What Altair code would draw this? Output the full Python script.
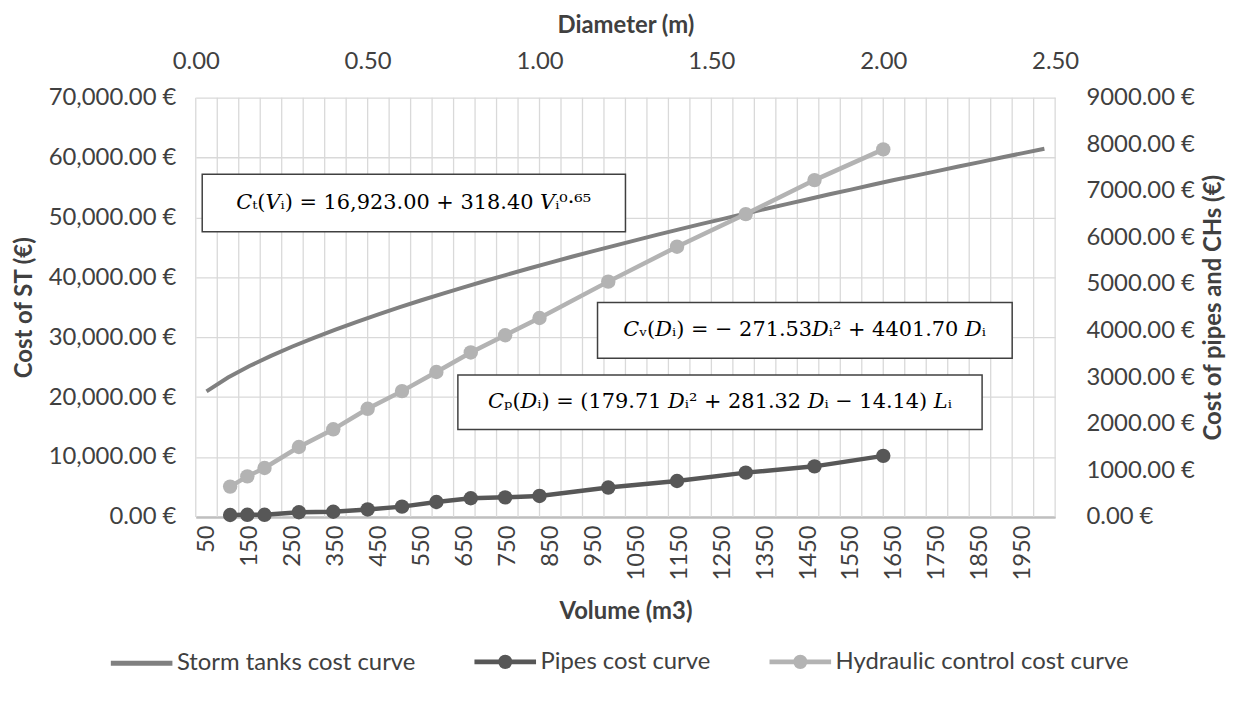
import altair as alt
import pandas as pd

# ---------------- data ----------------
volumes = [50, 100, 150, 200, 250, 300, 350, 400, 450, 500,
           550, 600, 650, 700, 750, 800, 850, 900, 950, 1000,
           1050, 1100, 1150, 1200, 1250, 1300, 1350, 1400, 1450, 1500,
           1550, 1600, 1650, 1700, 1750, 1800, 1850, 1900, 1950, 2000]
storm_cost = [20970, 23280, 25190, 26890, 28450, 29890, 31270, 32560, 33810, 35020,
              36170, 37290, 38370, 39430, 40460, 41470, 42450, 43440, 44380, 45300,
              46220, 47120, 48010, 48890, 49720, 50580, 51410, 52230, 53030, 53860,
              54650, 55450, 56250, 56980, 57740, 58510, 59240, 60000, 60740, 61470]

diameters = [0.1, 0.15, 0.2, 0.3, 0.4, 0.5, 0.6, 0.7, 0.8, 0.9, 1.0, 1.2, 1.4, 1.6, 1.8, 2.0]
pipes_cost = [40, 45, 45, 100, 110, 160, 220, 320, 400, 420, 450, 630, 770, 950, 1085, 1310]
hydraulic_cost = [650, 870, 1050, 1500, 1880, 2320, 2700, 3110, 3530, 3900, 4270, 5050, 5800, 6500, 7230, 7890]

series_names = ["Storm tanks cost curve", "Pipes cost curve", "Hydraulic control cost curve"]
series_colors = ["#808080", "#575757", "#b3b3b3"]

left_ticks = [0, 10000, 20000, 30000, 40000, 50000, 60000, 70000]
right_ticks = [0, 1000, 2000, 3000, 4000, 5000, 6000, 7000, 8000, 9000]
top_ticks = [0.0, 0.5, 1.0, 1.5, 2.0, 2.5]
bottom_ticks = [50, 150, 250, 350, 450, 550, 650, 750, 850, 950,
                1050, 1150, 1250, 1350, 1450, 1550, 1650, 1750, 1850, 1950]

equations = [
    "\U0001D436\u209C(\U0001D449\u1D62) =  16,923.00 +  318.40 \U0001D449\u1D62\u2070\u00B7\u2076\u2075",
    "\U0001D436\u1D65(\U0001D437\u1D62) =  \u2212 271.53\U0001D437\u1D62\u00B2 + 4401.70 \U0001D437\u1D62",
    "\U0001D436\u209A(\U0001D437\u1D62) = (179.71 \U0001D437\u1D62\u00B2 + 281.32 \U0001D437\u1D62 \u2212 14.14) \U0001D43F\u1D62",
]
# equation boxes, in data units of the volume / ST-cost axes
box_x = [40, 960, 635]
box_x2 = [1025, 1925, 1855]
box_y = [47600, 26500, 14600]
box_y2 = [57200, 35800, 23700]
text_x = [532, 1442, 1245]
text_y = [52400, 31200, 19150]

FONT = "Lato"
TXT = "#404040"
W, H = 865, 422

# ---------------- tables ----------------
storm_df = pd.DataFrame({"volume": volumes, "cost": storm_cost})
bounds = [v - 25 for v in volumes] + [volumes[-1] + 25]
grid_df = pd.DataFrame({"b": bounds})
diam_df = pd.DataFrame({"diameter": diameters, "pipes": pipes_cost, "hydraulic": hydraulic_cost})
box_df = pd.DataFrame({"x": box_x, "x2": box_x2, "y": box_y, "y2": box_y2,
                       "tx": text_x, "ty": text_y, "eq": equations})
legend_df = pd.DataFrame({"series": series_names})


def xs():
    return alt.Scale(domain=[25, 2025], nice=False, zero=False)


def ys():
    return alt.Scale(domain=[0, 70000], nice=False, zero=False)


def dxs():
    return alt.Scale(domain=[0, 2.5], nice=False, zero=False)


def dys():
    return alt.Scale(domain=[0, 9000], nice=False, zero=False)


x_axis = alt.Axis(orient="bottom", values=bottom_ticks, labelAngle=270, format="d", grid=False,
                  ticks=False, domain=True, domainColor="#bfbfbf", domainWidth=2.5, labelPadding=8,
                  labelOverlap=False, labelFlush=False, title="Volume (m3)", titleY=95,
                  titleBaseline="middle")
y_axis = alt.Axis(orient="left", values=left_ticks, labelExpr="format(datum.value, ',.2f') + ' €'",
                  grid=True, gridColor="#d9d9d9", gridWidth=1.3, ticks=False, domain=False,
                  labelPadding=20, labelOverlap=False, labelFlush=False, title="Cost of ST (€)",
                  titleX=-172, titleY=H / 2, titleAngle=270, titleBaseline="middle")
top_axis = alt.Axis(orient="top", values=top_ticks, format=".2f", grid=False, ticks=False,
                    domain=False, labelPadding=24, labelOverlap=False, labelFlush=False,
                    title="Diameter (m)", titleY=-73, titleBaseline="middle")
right_axis = alt.Axis(orient="right", values=right_ticks,
                      labelExpr="format(datum.value, '.2f') + ' €'",
                      grid=False, ticks=False, domain=False, labelPadding=31, labelOverlap=False,
                      labelFlush=False, title="Cost of pipes and CHs (€)", titleX=159,
                      titleY=H / 2, titleAngle=270, titleBaseline="middle")

vgrid = alt.Chart(grid_df).mark_rule(color="#d9d9d9", strokeWidth=1.3).encode(
    x=alt.X("b:Q", scale=xs(), axis=None))

storm = alt.Chart(storm_df).mark_line(color=series_colors[0], strokeWidth=4).encode(
    x=alt.X("volume:Q", scale=xs(), axis=x_axis),
    y=alt.Y("cost:Q", scale=ys(), axis=y_axis))

boxes = alt.Chart(box_df).mark_rect(fill="white", stroke="#404040", strokeWidth=1.5).encode(
    x=alt.X("x:Q", scale=xs(), axis=None), x2="x2:Q",
    y=alt.Y("y:Q", scale=ys(), axis=None), y2="y2:Q")

texts = alt.Chart(box_df).mark_text(font="DejaVu Serif", fontSize=21, color="#000000",
                                    align="center", baseline="middle").encode(
    x=alt.X("tx:Q", scale=xs(), axis=None), y=alt.Y("ty:Q", scale=ys(), axis=None), text="eq:N")

path_line = "M-1,0L1,0"
dots = ""
for r in (0.04, 0.1, 0.15):
    dots += f"M{r},0A{r},{r} 0 1,1 -{r},0A{r},{r} 0 1,1 {r},0"
path_dot = path_line + dots

leg = alt.Legend(orient="none", legendX=-88, legendY=534, direction="horizontal", columns=3,
                 title=None, labelFont=FONT, labelFontSize=24, labelColor=TXT, labelLimit=500,
                 symbolStrokeWidth=5, symbolSize=3844, symbolOpacity=1, columnPadding=48,
                 labelOffset=2)
legend_layer = alt.Chart(legend_df).mark_point(filled=False, strokeWidth=5, opacity=1).encode(
    color=alt.Color("series:N", scale=alt.Scale(domain=series_names, range=series_colors), legend=leg),
    shape=alt.Shape("series:N", scale=alt.Scale(domain=series_names, range=[path_line, path_dot, path_dot]), legend=leg),
).transform_filter("false")

pipes_line = alt.Chart(diam_df).mark_line(color=series_colors[1], strokeWidth=4.5).encode(
    x=alt.X("diameter:Q", scale=dxs(), axis=top_axis),
    y=alt.Y("pipes:Q", scale=dys(), axis=right_axis))
pipes_pts = alt.Chart(diam_df).mark_circle(color=series_colors[1], size=210, opacity=1).encode(
    x=alt.X("diameter:Q", scale=dxs(), axis=None), y=alt.Y("pipes:Q", scale=dys(), axis=None))
hyd_line = alt.Chart(diam_df).mark_line(color=series_colors[2], strokeWidth=4.5).encode(
    x=alt.X("diameter:Q", scale=dxs(), axis=None), y=alt.Y("hydraulic:Q", scale=dys(), axis=None))
hyd_pts = alt.Chart(diam_df).mark_circle(color=series_colors[2], size=210, opacity=1).encode(
    x=alt.X("diameter:Q", scale=dxs(), axis=None), y=alt.Y("hydraulic:Q", scale=dys(), axis=None))

chart = alt.layer(
    vgrid, storm, pipes_line, pipes_pts, hyd_line, hyd_pts, boxes, texts, legend_layer
).resolve_scale(x="independent", y="independent").properties(
    width=W, height=H,
    padding={"left": 189, "top": 88, "right": 175, "bottom": 170},
    autosize=alt.AutoSizeParams(type="none"),
    background="white",
).configure_view(stroke="transparent").configure_axis(
    labelFont=FONT, labelFontSize=24, labelColor=TXT,
    titleFont=FONT, titleFontSize=24, titleFontWeight="bold", titleColor=TXT,
)

chart.save("out.html", embed_options={"renderer": "svg", "actions": False})
